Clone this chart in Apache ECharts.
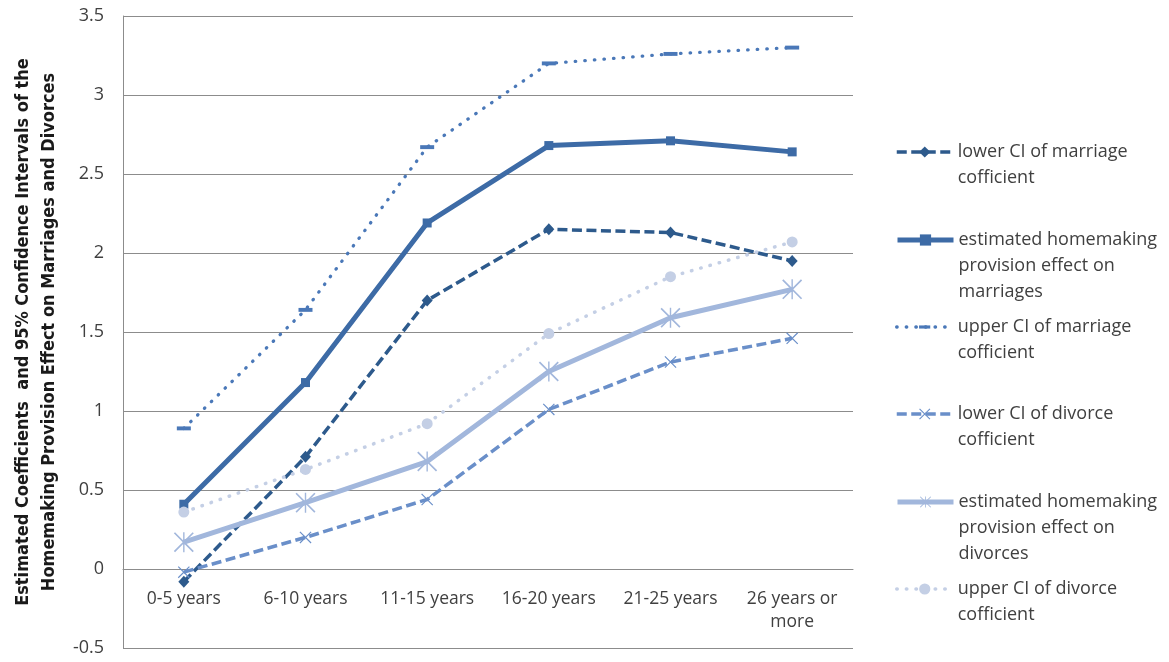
<!DOCTYPE html>
<html>
<head>
<meta charset="utf-8">
<script src="https://cdn.jsdelivr.net/npm/echarts@6/dist/echarts.min.js"></script>
<style>
  html, body { margin: 0; padding: 0; background: #ffffff; }
  #chart { width: 1169px; height: 662px; }
</style>
</head>
<body>
<div id="chart"></div>
<script>
// Duration categories on the x axis
const categories = ['0-5 years', '6-10 years', '11-15 years', '16-20 years', '21-25 years', '26 years or\nmore'];

// Coefficients and 95% confidence bounds
const lowerMarriage = [-0.08, 0.71, 1.70, 2.15, 2.13, 1.95];
const estMarriage   = [0.41, 1.18, 2.19, 2.68, 2.71, 2.64];
const upperMarriage = [0.89, 1.64, 2.67, 3.20, 3.26, 3.30];
const lowerDivorce  = [-0.02, 0.20, 0.44, 1.01, 1.31, 1.46];
const estDivorce    = [0.17, 0.42, 0.68, 1.25, 1.59, 1.77];
const upperDivorce  = [0.36, 0.63, 0.92, 1.49, 1.85, 2.07];

// Legend text, one array of wrapped lines per series
const legendLines = [
  ['lower CI of marriage', 'cofficient'],
  ['estimated homemaking', 'provision effect on', 'marriages'],
  ['upper CI of marriage', 'cofficient'],
  ['lower CI of divorce', 'cofficient'],
  ['estimated homemaking', 'provision effect on', 'divorces'],
  ['upper CI of divorce', 'cofficient']
];
const seriesNames = legendLines.map(l => l.join(' '));

const yAxisTitle = 'Estimated Coefficients  and 95% Confidence Intervals of the\nHomemaking Provision Effect on Marriages and Divorces';

// Marker shapes (the leading moves pad the dash into a square box)
const dashSymbol = 'path://M0,0 M100,100 M0,36 L100,36 L100,64 L0,64 Z';
const crossSymbol = 'path://M0,7 L7,0 L100,93 L93,100 Z M93,0 L100,7 L7,100 L0,93 Z';
const starSymbol = 'path://M0,6 L6,0 L100,94 L94,100 Z M94,0 L100,6 L6,100 L0,94 Z M46.5,0 L53.5,0 L53.5,100 L46.5,100 Z';

const textFont = "'Open Sans', 'DejaVu Sans', sans-serif";
const textColor = '#404040';
const gridColor = '#8c8c8c';

// Plot area edges; the category labels hang just below the zero line,
// one axis step (0.5) above the bottom edge
const gridTop = 16, gridBottom = 14, chartH = 662;
const yMin = -0.5, yMax = 3.5, yStep = 0.5;
const plotH = chartH - gridTop - gridBottom;
const zeroOffset = -plotH * (0 - yMin) / (yMax - yMin);

function makeSeries(idx, data, color, width, type, cap, symbol, symbolSize) {
  return {
    name: seriesNames[idx],
    type: 'line',
    data: data,
    symbol: symbol,
    symbolSize: symbolSize,
    showAllSymbol: true,
    animation: false,
    lineStyle: { color: color, width: width, type: type, cap: cap },
    itemStyle: { color: color, borderWidth: 0 },
    emphasis: { disabled: true },
    z: 2 + idx
  };
}

const series = [
  makeSeries(0, lowerMarriage, '#2d5a8c', 3.5, [10, 4.5], 'butt', 'diamond', [11, 12]),
  makeSeries(1, estMarriage,   '#3d6ba6', 5, 'solid', 'butt', 'rect', 9),
  makeSeries(2, upperMarriage, '#4a78b8', 3.3, [0.5, 9.1], 'round', dashSymbol, 14),
  makeSeries(3, lowerDivorce,  '#6a8fc9', 3.5, [10, 4.5], 'butt', crossSymbol, 12),
  makeSeries(4, estDivorce,    '#a2b7dc', 5, 'solid', 'butt', starSymbol, 20),
  makeSeries(5, upperDivorce,  '#c4cfe5', 3.5, [0.5, 9.1], 'round', 'circle', 11)
];

// One legend per entry so each first line sits on its own row
const firstLineY = [152, 240, 327, 414, 502, 589];
const lineH = 26;
const legends = legendLines.map((lines, i) => {
  const n = lines.length;
  return {
    data: [seriesNames[i]],
    left: 895,
    top: firstLineY[i] - (n - 0.5) * lineH,
    padding: 0,
    itemWidth: 56,
    itemHeight: 14,
    selectedMode: false,
    lineStyle: { width: 'inherit' },
    textStyle: { fontFamily: textFont, fontSize: 18, color: textColor, lineHeight: lineH },
    // blank lines above keep the icon level with the first text line
    formatter: () => '\n'.repeat(n - 1) + lines.join('\n')
  };
});

const chart = echarts.init(document.getElementById('chart'), null, { renderer: 'canvas' });
chart.setOption({
  backgroundColor: '#ffffff',
  animation: false,
  legend: legends,
  grid: { left: 123, right: 316, top: gridTop, bottom: gridBottom, containLabel: false, outerBoundsMode: 'none' },
  xAxis: {
    type: 'category',
    data: categories,
    boundaryGap: true,
    offset: zeroOffset,
    axisLine: { show: true, onZero: false, lineStyle: { color: gridColor, width: 1 } },
    axisTick: { show: false },
    axisLabel: { margin: 19, fontFamily: textFont, fontSize: 17.5, color: textColor, lineHeight: 23, interval: 0 },
    splitLine: { show: false }
  },
  yAxis: {
    type: 'value',
    min: yMin,
    max: yMax,
    interval: yStep,
    axisLine: { show: true, lineStyle: { color: gridColor, width: 1 } },
    axisTick: { show: false },
    axisLabel: { margin: 19, fontFamily: textFont, fontSize: 18, color: textColor },
    splitLine: { show: true, lineStyle: { color: gridColor, width: 1 } },
    name: yAxisTitle,
    nameLocation: 'middle',
    nameRotate: 90,
    nameGap: 60,
    nameTextStyle: {
      fontFamily: "'Liberation Sans Narrow', 'DejaVu Sans Condensed', 'Liberation Sans', sans-serif",
      fontWeight: 'bold',
      fontSize: 18,
      lineHeight: 26,
      color: '#1a1a1a'
    }
  },
  series: series
});
</script>
</body>
</html>
